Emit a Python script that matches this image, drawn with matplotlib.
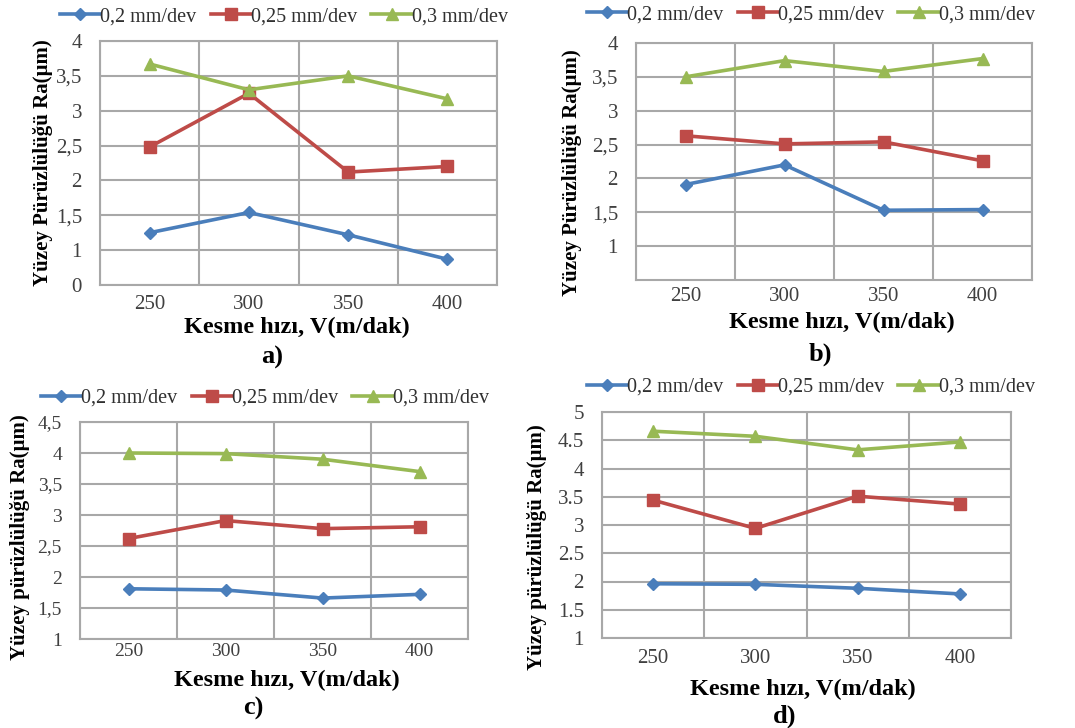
import matplotlib
matplotlib.use('Agg')
import matplotlib.pyplot as plt
import numpy as np

plt.rcParams['font.family'] = ['Liberation Serif', 'DejaVu Serif']

speeds = ['250', '300', '350', '400']
series_names = ['0,2 mm/dev', '0,25 mm/dev', '0,3 mm/dev']

# values (Ra, µm)
a_02 = [1.25, 1.54, 1.22, 0.87]
a_025 = [2.48, 3.25, 2.12, 2.20]
a_03 = [3.67, 3.30, 3.50, 3.17]

b_02 = [1.91, 2.20, 1.53, 1.54]
b_025 = [2.63, 2.51, 2.54, 2.26]
b_03 = [3.50, 3.74, 3.58, 3.77]

c_02 = [1.81, 1.79, 1.66, 1.72]
c_025 = [2.62, 2.91, 2.78, 2.81]
c_03 = [4.00, 3.99, 3.90, 3.70]

d_02 = [1.96, 1.95, 1.88, 1.78]
d_025 = [3.44, 2.94, 3.51, 3.37]
d_03 = [4.66, 4.57, 4.33, 4.47]

colors = ['#4A7EBB', '#BE4B48', '#98B954']
markers = ['D', 's', '^']
msizes = [6, 9, 9]

W, H = 1075, 728
fig = plt.figure(figsize=(W / 100, H / 100), dpi=100)


def px_rect(x0, y0, x1, y1):
    return [x0 / W, 1 - y1 / H, (x1 - x0) / W, (y1 - y0) / H]


def panel(rect, data, ylim, yticks, yticklabels, ylabel, legend_xy, ylabel_xy,
          xlabel_xy, tag, tag_xy, xpad=8, tsize=15):
    ax = fig.add_axes(px_rect(*rect))
    x = np.arange(len(speeds))
    for vals, name, c, m, ms in zip(data, series_names, colors, markers, msizes):
        ax.plot(x, vals, color=c, lw=2.6, marker=m, markersize=ms, label=name,
                markeredgecolor=c)
    ax.set_xlim(-0.5, len(speeds) - 0.5)
    ax.set_ylim(*ylim)
    ax.set_xticks(x)
    ax.set_xticklabels(speeds)
    ax.set_xticks(np.arange(-0.5, len(speeds)), minor=True)
    ax.set_yticks(yticks)
    ax.set_yticklabels(yticklabels)
    ax.grid(True, which='minor', axis='x', color='#A8A8A8', lw=1.5)
    ax.grid(True, which='major', axis='y', color='#A8A8A8', lw=1.5)
    ax.set_axisbelow(True)
    for s in ax.spines.values():
        s.set_color('#A8A8A8')
        s.set_linewidth(1.5)
    ax.tick_params(which='both', length=0, labelsize=tsize, colors='#404040')
    ax.tick_params(axis='x', pad=xpad)
    ax.tick_params(axis='y', pad=13)

    ax.legend(loc='center', bbox_to_anchor=(legend_xy[0] / W, 1 - legend_xy[1] / H),
              bbox_transform=fig.transFigure, ncol=3, frameon=False,
              fontsize=14.5, handlelength=2.0, handletextpad=0.0,
              columnspacing=0.7, borderaxespad=0, labelcolor='#303030')
    fig.text(ylabel_xy[0] / W, 1 - ylabel_xy[1] / H, ylabel, rotation=90,
             ha='center', va='center', fontsize=15, fontweight='bold')
    fig.text(xlabel_xy[0] / W, 1 - xlabel_xy[1] / H, 'Kesme hızı, V(m/dak)',
             ha='center', va='center', fontsize=17.5, fontweight='bold')
    fig.text(tag_xy[0] / W, 1 - tag_xy[1] / H, tag, ha='center', va='center',
             fontsize=19, fontweight='bold')
    return ax


panel((100, 41, 497, 285), [a_02, a_025, a_03], (0.5, 4),
      [0.5, 1, 1.5, 2, 2.5, 3, 3.5, 4],
      ['0', '1', '1,5', '2', '2,5', '3', '3,5', '4'],
      'Yüzey Pürüzlülüğü Ra(µm)', (284, 17), (43, 163), (297, 327), 'a)', (272, 357),
      xpad=7)

panel((636, 43, 1032, 280), [b_02, b_025, b_03], (0.5, 4),
      [1, 1.5, 2, 2.5, 3, 3.5, 4],
      ['1', '1,5', '2', '2,5', '3', '3,5', '4'],
      'Yüzey Pürüzlülüğü Ra(µm)', (811, 15), (572, 173), (842, 322), 'b)', (820, 354),
      xpad=5)

panel((80, 422, 468, 639), [c_02, c_025, c_03], (1, 4.5),
      [1, 1.5, 2, 2.5, 3, 3.5, 4, 4.5],
      ['1', '1,5', '2', '2,5', '3', '3,5', '4', '4,5'],
      'Yüzey pürüzlülüğü Ra(µm)', (265, 398), (20, 537), (287, 680), 'c)', (253, 708),
      xpad=3, tsize=14)

panel((602, 412, 1011, 638), [d_02, d_025, d_03], (1, 5),
      [1, 1.5, 2, 2.5, 3, 3.5, 4, 4.5, 5],
      ['1', '1.5', '2', '2.5', '3', '3.5', '4', '4.5', '5'],
      'Yüzey pürüzlülüğü Ra(µm)', (811, 387), (537, 547), (803, 689), 'd)', (785, 716),
      xpad=8)

fig.savefig('out.png', dpi=100, facecolor='white')
